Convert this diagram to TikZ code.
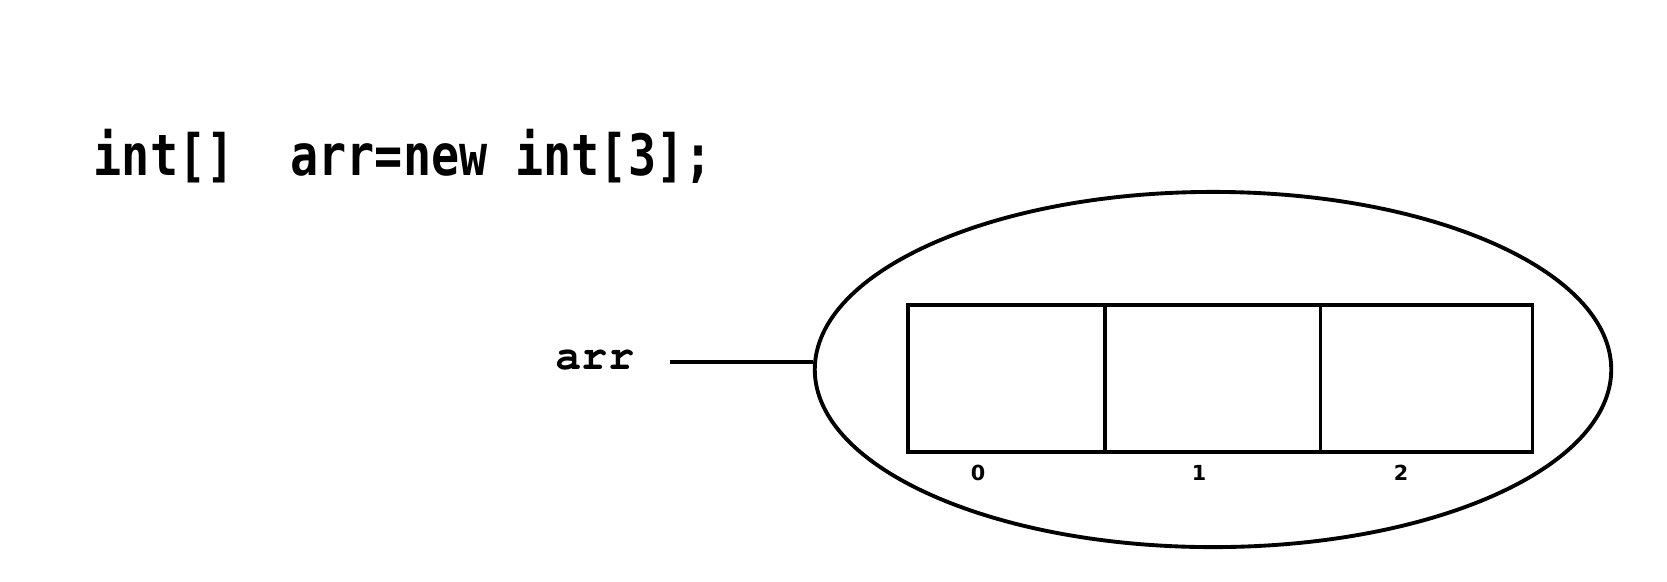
\documentclass[tikz,border=0pt]{standalone}
\usepackage{fontspec}
\usepackage{graphicx}
\newfontfamily\codefont{DejaVu Sans Mono}
\newfontfamily\idxfont{DejaVu Sans}
\newcommand\varfont{\fontencoding{T1}\fontfamily{pcr}\fontseries{b}\selectfont}
\usetikzlibrary{shapes.geometric}

\begin{document}
\begin{tikzpicture}[x=0.01cm,y=-0.01cm,
    line width = 1pt,
    code/.style = {
      anchor = base west,
      inner sep = 0pt,
      font = \codefont\bfseries\fontsize{16.2}{18}\selectfont
    },
    var/.style = {
      anchor = base west,
      inner sep = 0pt,
      font = \fontsize{12.4}{14}\varfont
    },
    heap/.style = {
      draw,
      ellipse,
      inner sep = 0pt,
      line width = 1.1pt,
      minimum width = 7.96cm,
      minimum height = 3.55cm
    },
    cell/.style = {
      draw,
      anchor = north west,
      inner sep = 0pt,
      outer sep = 0pt,
      minimum height = 1.47cm
    },
    idx/.style = {
      inner sep = 0pt,
      font = \idxfont\bfseries\fontsize{5.9}{7}\selectfont
    }
  ]
  \useasboundingbox (0,0) rectangle (1667,581);

  \node[code] (decl) at (92,175) {\scalebox{0.82}[1]{int[]\ \ arr=new\ int[3];}};

  \node[heap] (heap) at (1213,369.5) {};

  \node[cell,minimum width=1.97cm] (c0) at (908,305) {};
  \node[cell,minimum width=2.15cm] (c1) at (c0.north east) {};
  \node[cell,minimum width=2.12cm] (c2) at (c1.north east) {};

  \node[idx] (i0) at (978,472.5) {0};
  \node[idx] (i1) at (1199,472.5) {1};
  \node[idx] (i2) at (1401,472.5) {2};

  \node[var] (arr) at (554,369) {arr};
  \coordinate (tail) at (670,362);
  \draw (tail) -- (tail -| heap.west);
\end{tikzpicture}
\end{document}
